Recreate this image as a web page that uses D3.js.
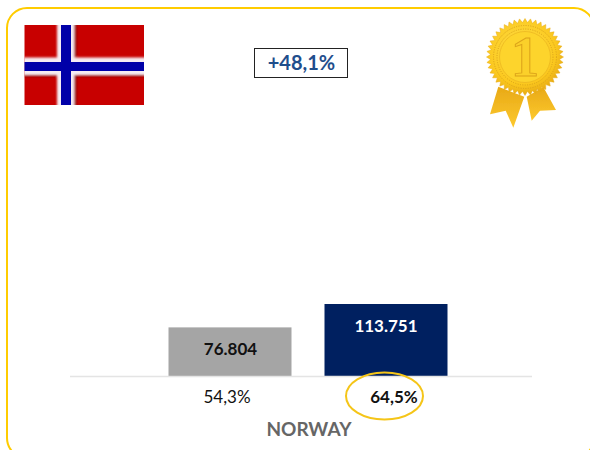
<!DOCTYPE html>
<html><head><meta charset="utf-8">
<script src="https://cdn.jsdelivr.net/npm/d3@7"></script>
<style>html,body{margin:0;padding:0;background:#fff;overflow:hidden}svg{display:block}text{font-family:Lato,"Open Sans",sans-serif}</style>
</head><body><script>
const categories = ["2019", "2020"];
const barValues = [76804, 113751];
const barLabels = ["76.804", "113.751"];
const shareLabels = ["54,3%", "64,5%"];
const barColors = ["#a5a5a5", "#002060"];
const labelColors = ["#111111", "#ffffff"];
const countryName = "NORWAY";
const growthLabel = "+48,1%";

const svg = d3.select("body").append("svg").attr("width", 590).attr("height", 450);
const defs = svg.append("defs");
defs.append("filter").attr("id", "soft").append("feGaussianBlur").attr("stdDeviation", 0.9);
defs.append("filter").attr("id", "soft2").append("feGaussianBlur").attr("stdDeviation", 0.4);
const gold = defs.append("radialGradient").attr("id", "gold").attr("cx", "45%").attr("cy", "40%").attr("r", "65%");
gold.append("stop").attr("offset", "0%").attr("stop-color", "#ffe04a");
gold.append("stop").attr("offset", "70%").attr("stop-color", "#fbc81e");
gold.append("stop").attr("offset", "100%").attr("stop-color", "#e0a010");
const rib = defs.append("linearGradient").attr("id", "rib").attr("x1", 0).attr("y1", 0).attr("x2", 0).attr("y2", 1);
rib.append("stop").attr("offset", "0%").attr("stop-color", "#e8a916");
rib.append("stop").attr("offset", "100%").attr("stop-color", "#fdc92e");

// frame (runs past the right and bottom edges of the picture)
svg.append("rect").attr("x", 7).attr("y", 8).attr("width", 587).attr("height", 450).attr("rx", 20)
  .attr("fill", "#fff").attr("stroke", "#ffcc00").attr("stroke-width", 2);

// flag
defs.append("clipPath").attr("id", "fc").append("rect").attr("x", 24.5).attr("y", 25).attr("width", 119.5).attr("height", 80);
const fg = svg.append("g").attr("clip-path", "url(#fc)");
fg.append("rect").attr("x", 24).attr("y", 25).attr("width", 120).attr("height", 80).attr("fill", "#c80000");
const fb = fg.append("g").attr("filter", "url(#soft)");
fb.append("rect").attr("x", 58).attr("y", 20).attr("width", 18.5).attr("height", 90).attr("fill", "#6a0808").attr("opacity", .7);
fb.append("rect").attr("x", 20).attr("y", 59).attr("width", 130).attr("height", 17.5).attr("fill", "#6a0808").attr("opacity", .7);
fb.append("rect").attr("x", 57).attr("y", 20).attr("width", 17.5).attr("height", 90).attr("fill", "#f6ecf2");
fb.append("rect").attr("x", 20).attr("y", 57.5).attr("width", 130).attr("height", 17.5).attr("fill", "#f6ecf2");
const fb2 = fg.append("g").attr("filter", "url(#soft2)");
fb2.append("rect").attr("x", 61).attr("y", 20).attr("width", 10).attr("height", 90).attr("fill", "#0000a8");
fb2.append("rect").attr("x", 20).attr("y", 62).attr("width", 130).attr("height", 9).attr("fill", "#0000a8");

// medal
const medal = svg.append("g").attr("transform", "translate(525,57)");
const ribG = medal.append("g").attr("filter", "url(#soft2)");
[[[-26.7,29.7],[-35,57.3],[-19.3,53.7],[-11.7,70.7],[-0.7,39.7]],
 [[1.7,39.7],[6.7,63.7],[15,53.7],[31,53],[18.3,30]]].forEach(p =>
  ribG.append("polygon").attr("points", p.join(" ")).attr("fill", "url(#rib)"));
const teeth = 44, pts = [];
d3.range(teeth * 2).forEach(i => {
  const a = i * Math.PI / teeth, r = i % 2 ? 34.5 : 38.5;
  pts.push([r * Math.cos(a), r * Math.sin(a)]);
});
medal.append("polygon").attr("points", pts.join(" ")).attr("fill", "url(#gold)").attr("stroke", "#e8ad18").attr("stroke-width", .5);
medal.append("circle").attr("r", 31.5).attr("fill", "none").attr("stroke", "#d9a21a").attr("stroke-width", 1).attr("stroke-dasharray", "1 1.4");
medal.append("circle").attr("r", 28).attr("fill", "none").attr("stroke", "#d9a21a").attr("stroke-width", 1).attr("stroke-dasharray", "1 1.4");
medal.append("circle").attr("r", 25.5).attr("fill", "#fdd42c").attr("stroke", "#eab420").attr("stroke-width", .7);
medal.append("text").attr("text-anchor", "middle").attr("y", 19).attr("font-size", 57).attr("font-weight", 700)
  .attr("fill", "#fbd02a").attr("stroke", "#dca41a").attr("stroke-width", 1).style("font-family", "'Liberation Serif',serif").text("1");

// bars
const x = d3.scalePoint().domain(categories).range([230, 386]);
const y = d3.scaleLinear().domain([0, 113751]).range([376, 304]);
const barWidth = 123;
svg.selectAll("rect.bar").data(categories).join("rect").attr("class", "bar")
  .attr("x", d => x(d) - barWidth / 2)
  .attr("y", (d, i) => y(barValues[i]))
  .attr("width", barWidth)
  .attr("height", (d, i) => y(0) - y(barValues[i]))
  .attr("fill", (d, i) => barColors[i]);
svg.append("line").attr("x1", 70).attr("x2", 532).attr("y1", 376.5).attr("y2", 376.5).attr("stroke", "#e4e4e4").attr("stroke-width", 1.5);

// labels
categories.forEach((c, i) => {
  svg.append("text").attr("x", x(c) + (i ? 0 : 0.5)).attr("y", y(barValues[i]) + 28).attr("text-anchor", "middle")
    .attr("font-size", 17).attr("font-weight", 700).attr("fill", labelColors[i]).text(barLabels[i]);
  svg.append("text").attr("x", x(c) + (i ? 8 : -3)).attr("y", 403).attr("text-anchor", "middle")
    .attr("font-size", 17).attr("font-weight", i ? 700 : 400).attr("fill", "#111").text(shareLabels[i]);
});
svg.append("ellipse").attr("cx", 384.5).attr("cy", 396).attr("rx", 38.5).attr("ry", 23.5)
  .attr("fill", "none").attr("stroke", "#f5c518").attr("stroke-width", 2);
svg.append("text").attr("x", 309).attr("y", 436).attr("text-anchor", "middle").attr("font-size", 19)
  .attr("font-weight", 700).attr("fill", "#666").text(countryName);

svg.append("rect").attr("x", 254.5).attr("y", 48.5).attr("width", 93).attr("height", 29)
  .attr("fill", "#fff").attr("stroke", "#222").attr("stroke-width", 1);
svg.append("text").attr("x", 301.5).attr("y", 70).attr("text-anchor", "middle").attr("font-size", 20)
  .attr("font-weight", 700).attr("fill", "#1f4e8c").text(growthLabel);
</script></body></html>
